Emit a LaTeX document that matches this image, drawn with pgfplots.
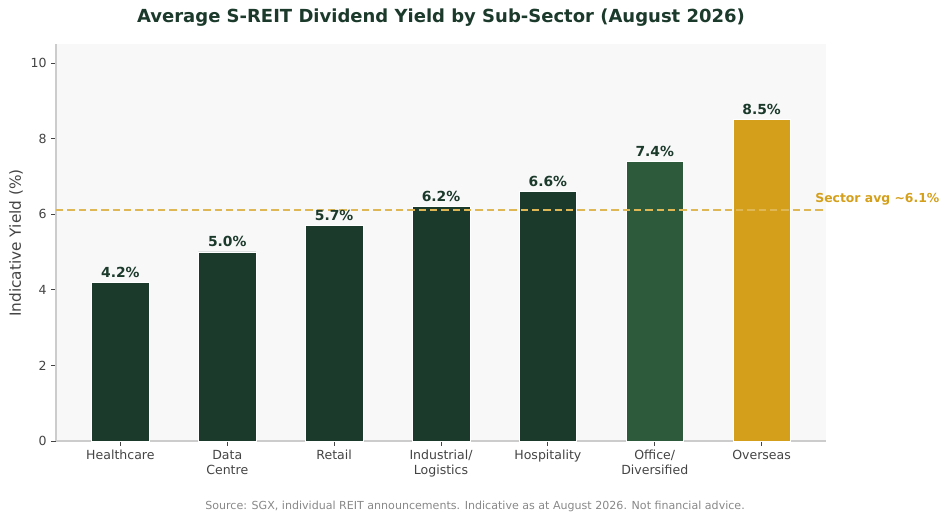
\documentclass[border=0pt]{standalone}
\usepackage{fontspec}
\setmainfont{DejaVu Sans}
\usepackage{pgfplots}
\pgfplotsset{compat=1.18}
\definecolor{reitdark}{HTML}{1B3A2B}
\definecolor{reitmid}{HTML}{2D5A3A}
\definecolor{reitgold}{HTML}{D4A01C}
\definecolor{spine}{HTML}{CCCCCC}
\definecolor{ticktxt}{HTML}{444444}

\begin{document}
\begin{tikzpicture}[x=0.75pt,y=0.75pt]
\begin{axis}[
    at={(0,0)}, anchor=south west,
    scale only axis,
    width=577.5pt, height=297.75pt,
    xmin=-0.6025, xmax=6.6025,
    ymin=0, ymax=10.5,
    axis background/.style={fill={rgb,255:red,248;green,248;blue,248}},
    axis x line*=bottom, axis y line*=left,
    axis line style={spine, line width=0.8pt},
    xtick={0,1,2,3,4,5,6},
    xticklabels={Healthcare,{Data\\Centre},Retail,{Industrial/\\Logistics},Hospitality,{Office/\\Diversified},Overseas},
    xticklabel style={align=center, font=\fontsize{9.4}{11}\selectfont, text=ticktxt},
    ytick={0,2,4,6,8,10},
    yticklabel style={font=\fontsize{9.4}{11}\selectfont, text=ticktxt},
    /pgf/number format/assume math mode=true,
    tick align=outside, tick pos=left,
    major tick length=3.5pt,
    tick style={ticktxt, line width=0.6pt},
    bar width=0.54,
    clip=false,
    vals/.style={nodes near coords={\pgfmathprintnumber[fixed,fixed zerofill,precision=1]{\pgfplotspointmeta}\%},
      nodes near coords style={anchor=south, inner sep=3.5pt, text=reitdark, font=\fontsize{10.4}{12}\selectfont\bfseries}},
]
\addplot[ybar, bar shift=0pt, fill=reitdark, draw=white, line width=0.4pt, vals] coordinates {(0,4.2) (1,5.0) (2,5.7) (3,6.2) (4,6.6)};
\addplot[ybar, bar shift=0pt, fill=reitmid, draw=white, line width=0.4pt, vals] coordinates {(5,7.4)};
\addplot[ybar, bar shift=0pt, fill=reitgold, draw=white, line width=0.4pt, vals] coordinates {(6,8.5)};
\addplot[sharp plot, draw=reitgold!75!white, line width=1.4pt, dash pattern=on 5.5pt off 3pt] coordinates {(-0.6025,6.1) (6.6025,6.1)};
\node[anchor=west, inner sep=0pt, text=reitgold, font=\fontsize{9.3}{11}\selectfont\bfseries] at (axis cs:6.5,6.4) {Sector avg \textasciitilde 6.1\%};
\end{axis}
\node[font=\fontsize{13.5}{16}\selectfont\bfseries, text=reitdark] at (385,423) {Average S-REIT Dividend Yield by Sub-Sector (August 2026)};
\node[rotate=90, font=\fontsize{11.5}{14}\selectfont, text=ticktxt] at (-40,198) {Indicative Yield (\%)};
\node[font=\fontsize{8.3}{10}\selectfont, text={rgb,255:red,136;green,136;blue,136}] at (419,-65) {Source: SGX, individual REIT announcements. Indicative as at August 2026. Not financial advice.};
\useasboundingbox (-56,-80) rectangle (893,441);
\end{tikzpicture}
\end{document}
